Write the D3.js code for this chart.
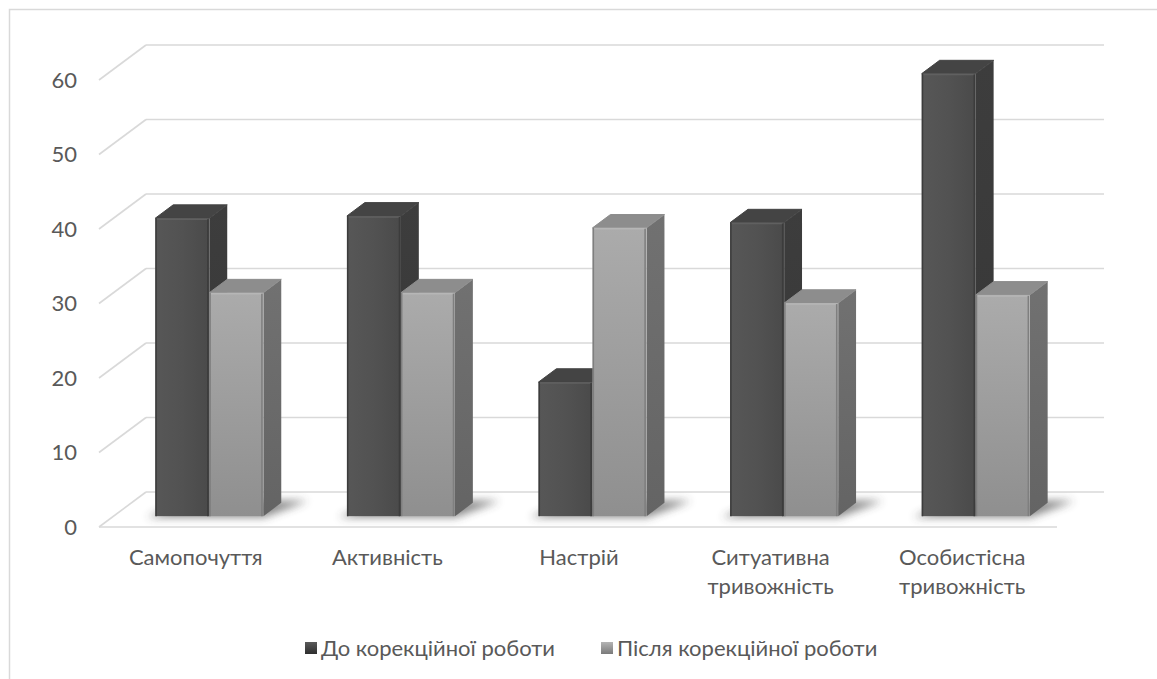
<!DOCTYPE html>
<html>
<head>
<meta charset="utf-8">
<script src="https://cdn.jsdelivr.net/npm/d3@7/dist/d3.min.js"></script>
<style>
  html, body { margin: 0; padding: 0; background: #fff; }
  svg { display: block; }
  text { font-family: Lato, "Open Sans", sans-serif; fill: #595959; }
</style>
</head>
<body>
<svg id="chart" width="1157" height="679"></svg>
<script>
// Categories and series values
const categories = ["Самопочуття", "Активність", "Настрій", "Ситуативна тривожність", "Особистісна тривожність"];
const seriesNames = ["До корекційної роботи", "Після корекційної роботи"];
const beforeValues = [40, 40.3, 18, 39.4, 59.4];
const afterValues = [30, 30, 38.7, 28.6, 29.7];
const yTicks = [0, 10, 20, 30, 40, 50, 60];

const W = 1157, H = 679;
const svg = d3.select("#chart");

// Oblique projection of the 3D plot box
const origin = { x: 99, y: 527 };       // front-left corner of the floor
const depthX = 47, depthY = 35;         // back wall offset
const plotW = 958, plotH = 447;

const x = d3.scaleBand().domain(categories).range([0, plotW]).paddingInner(0.436).paddingOuter(0.218);
const xs = d3.scaleBand().domain(seriesNames).range([0, x.bandwidth()]);
const y = d3.scaleLinear().domain([0, 60]).range([0, plotH]);

function P(px, v, d) {
  return [origin.x + px + depthX * d, origin.y - y(v) - depthY * d];
}
const pts = arr => arr.map(p => p.join(",")).join(" ");

// Defs: gradients, blur
const defs = svg.append("defs");
defs.append("filter").attr("id", "shadowBlur").attr("x", "-50%").attr("y", "-50%").attr("width", "200%").attr("height", "200%")
  .append("feGaussianBlur").attr("stdDeviation", 4);

function linGrad(id, stops, horiz) {
  const g = defs.append("linearGradient").attr("id", id)
    .attr("x1", 0).attr("y1", 0).attr("x2", horiz ? 1 : 0).attr("y2", horiz ? 0 : 1);
  stops.forEach(s => g.append("stop").attr("offset", s[0]).attr("stop-color", s[1]));
}
linGrad("frontDark", [[0, "#575757"], [0.5, "#525252"], [1, "#4a4a4a"]], true);
linGrad("frontLight", [[0, "#ababab"], [1, "#8f8f8f"]], false);
linGrad("sideDark", [[0, "#3d3d3d"], [1, "#363636"]], false);
linGrad("sideLight", [[0, "#717171"], [1, "#646464"]], false);
linGrad("legDark", [[0, "#5a5a5a"], [1, "#2e2e2e"]], false);
linGrad("legLight", [[0, "#b4b4b4"], [1, "#7a7a7a"]], false);

const style = {
  [seriesNames[0]]: { front: "url(#frontDark)", side: "url(#sideDark)", top: "#444444", edge: "#3c3c3c", hi: "#606060" },
  [seriesNames[1]]: { front: "url(#frontLight)", side: "url(#sideLight)", top: "#8d8d8d", edge: "#7f7f7f", hi: "#b6b6b6" }
};

// Outer chart border (left and top)
svg.append("path").attr("d", `M9.5,${H} L9.5,9.5 L${W},9.5`)
  .attr("fill", "none").attr("stroke", "#d9d9d9").attr("stroke-width", 1.5);

// Gridlines on the back wall and the left side wall
const grid = svg.append("g").attr("stroke", "#d9d9d9").attr("stroke-width", 1.6).attr("fill", "none");
yTicks.forEach(t => {
  grid.append("line").attr("x1", P(0, t, 1)[0]).attr("y1", P(0, t, 1)[1])
    .attr("x2", P(plotW, t, 1)[0]).attr("y2", P(plotW, t, 1)[1]);
  grid.append("line").attr("x1", P(0, t, 0)[0]).attr("y1", P(0, t, 0)[1])
    .attr("x2", P(0, t, 1)[0]).attr("y2", P(0, t, 1)[1]);
});
// Floor front edge
grid.append("line").attr("x1", P(0, 0, 0)[0]).attr("y1", P(0, 0, 0)[1])
  .attr("x2", P(plotW, 0, 0)[0]).attr("y2", P(plotW, 0, 0)[1]);

// Y axis labels aligned to the front edge
svg.append("g").selectAll("text").data(yTicks).join("text")
  .attr("x", 77).attr("y", t => P(0, t, 0)[1])
  .attr("dy", "0.35em").attr("text-anchor", "end")
  .style("font-size", "22px").text(d => d);

const d0 = 0.31, d1 = 0.69;

// Soft shadows under each bar group
const shadows = svg.append("g").attr("filter", "url(#shadowBlur)").attr("opacity", 0.6);
categories.forEach(c => {
  const a = x(c) - 7, b = x(c) + x.bandwidth() + 24;
  shadows.append("polygon")
    .attr("points", pts([P(a, 0, d0 - 0.03), P(b - 22, 0, d0 - 0.03), P(b, 0, d1 + 0.06), P(a + 18, 0, d1 + 0.06)]))
    .attr("fill", "#3a3a3a");
});

// Bars
const bars = [];
categories.forEach((c, i) => {
  bars.push({ cat: c, s: seriesNames[0], v: beforeValues[i] });
  bars.push({ cat: c, s: seriesNames[1], v: afterValues[i] });
});

const barG = svg.append("g");
bars.forEach(b => {
  const xl = x(b.cat) + xs(b.s), xr = xl + xs.bandwidth();
  const st = style[b.s];
  const g = barG.append("g");
  // side face
  g.append("polygon").attr("points", pts([P(xr, 0, d0), P(xr, 0, d1), P(xr, b.v, d1), P(xr, b.v, d0)]))
    .attr("fill", st.side);
  // top face
  g.append("polygon").attr("points", pts([P(xl, b.v, d0), P(xr, b.v, d0), P(xr, b.v, d1), P(xl, b.v, d1)]))
    .attr("fill", st.top).attr("stroke", st.top).attr("stroke-width", 1).attr("stroke-linejoin", "round");
  // front face
  const f0 = P(xl, b.v, d0), f1 = P(xr, 0, d0);
  g.append("rect").attr("x", f0[0]).attr("y", f0[1]).attr("width", f1[0] - f0[0]).attr("height", f1[1] - f0[1])
    .attr("fill", st.front);
  // bevel highlights along the front edges
  g.append("line").attr("x1", f0[0] + 1).attr("y1", f0[1] + 1).attr("x2", f1[0] - 1).attr("y2", f0[1] + 1)
    .attr("stroke", st.hi).attr("stroke-width", 1.5);
  g.append("line").attr("x1", f1[0] - 1.5).attr("y1", f0[1] + 1).attr("x2", f1[0] - 1.5).attr("y2", f1[1])
    .attr("stroke", st.edge).attr("stroke-width", 1.5);
  g.append("line").attr("x1", f0[0] + 0.75).attr("y1", f0[1]).attr("x2", f0[0] + 0.75).attr("y2", f1[1])
    .attr("stroke", st.edge).attr("stroke-width", 1.5);
});

// Category labels along the front floor edge
const catLabels = svg.append("g");
categories.forEach(c => {
  const cx = P(x(c) + x.bandwidth() / 2, 0, 0)[0] + 1;
  const words = c.split(" ");
  const t = catLabels.append("text").attr("text-anchor", "middle").style("font-size", "22px");
  words.forEach((w, k) => {
    t.append("tspan").attr("x", cx).attr("y", 565 + k * 29).text(w);
  });
});

// Legend
const legend = svg.append("g");
const legItems = [
  { name: seriesNames[0], fill: "url(#legDark)", x: 305 },
  { name: seriesNames[1], fill: "url(#legLight)", x: 601 }
];
legItems.forEach(l => {
  legend.append("rect").attr("x", l.x).attr("y", 642).attr("width", 12).attr("height", 12).attr("fill", l.fill);
  legend.append("text").attr("x", l.x + 16).attr("y", 648).attr("dy", "0.35em")
    .style("font-size", "22px").text(l.name);
});
</script>
</body>
</html>
